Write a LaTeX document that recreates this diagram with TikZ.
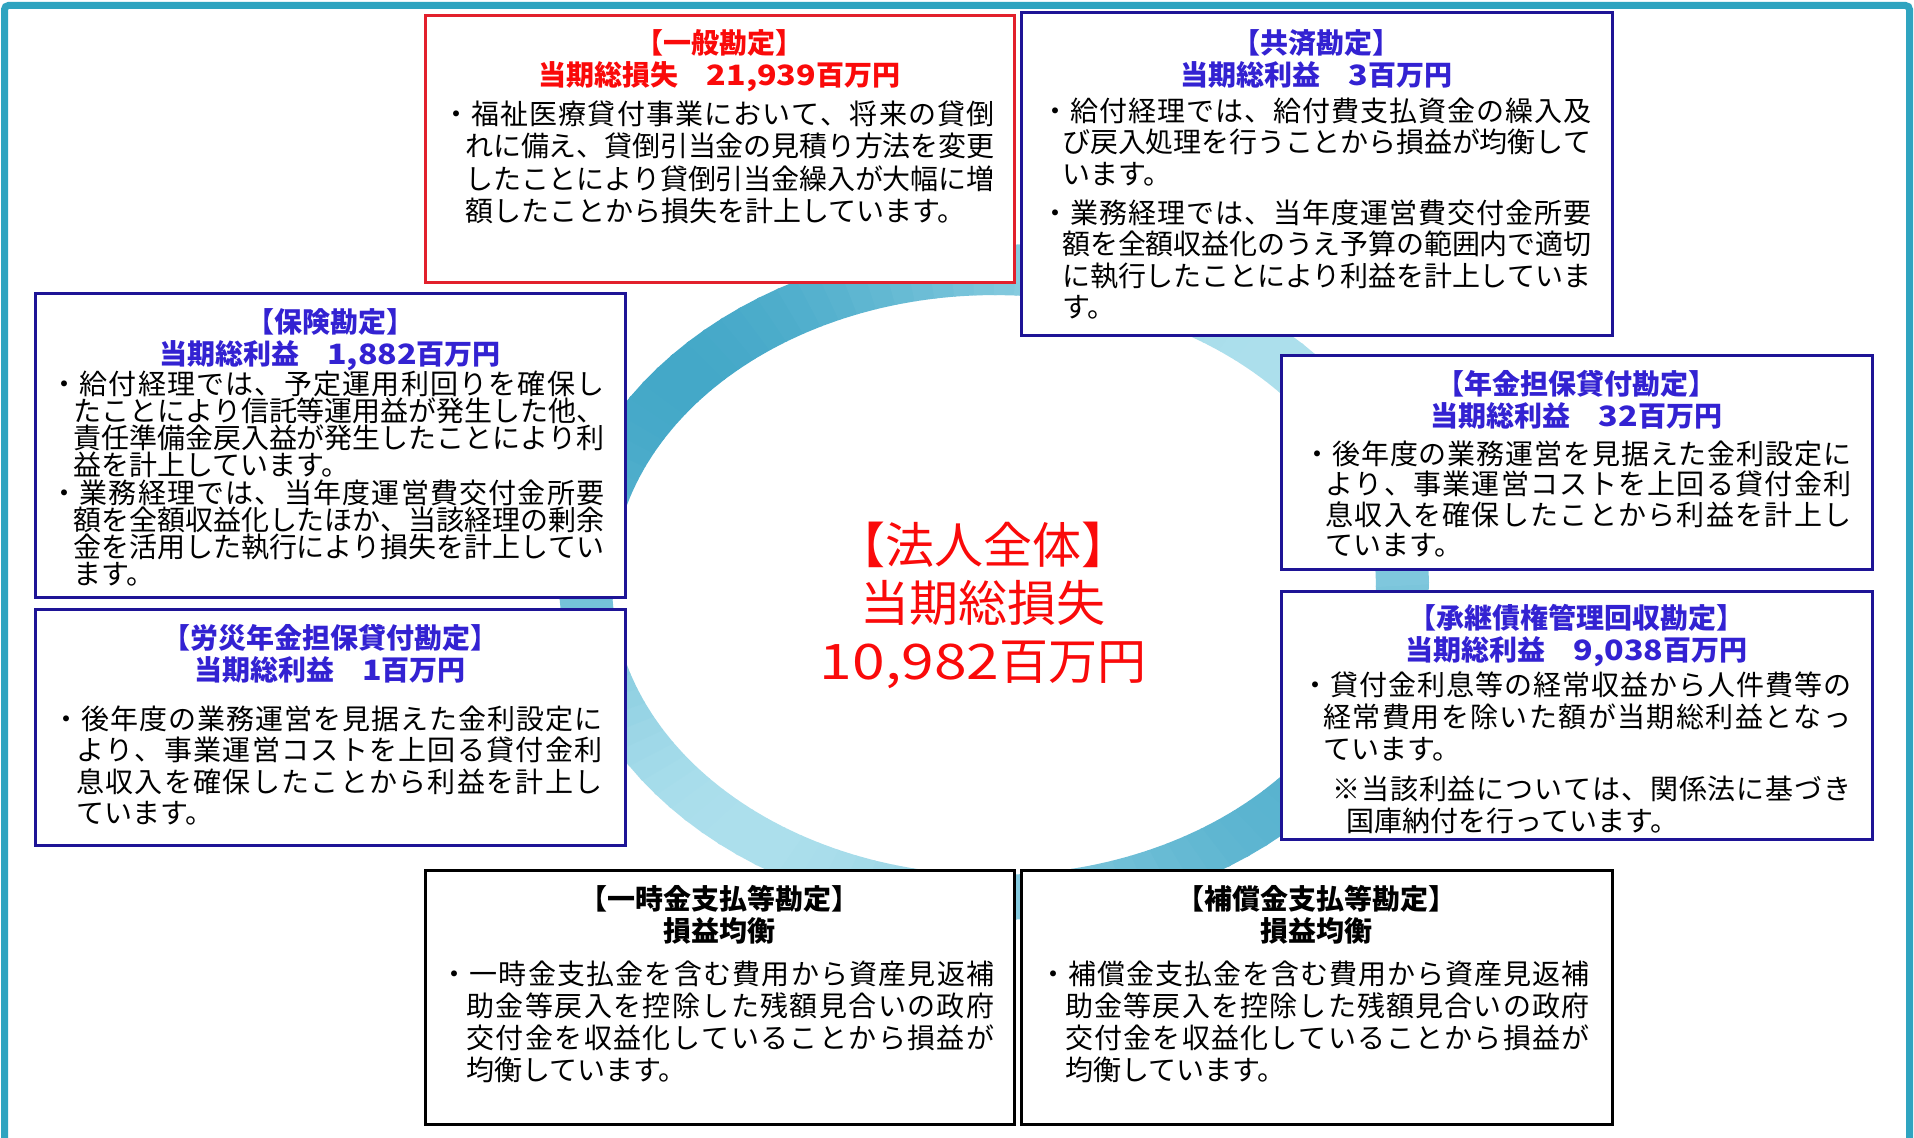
\documentclass[tikz,border=0pt]{standalone}
\usepackage{fontspec}
\usepackage{graphicx}
\setmainfont{Noto Sans CJK JP}
\usetikzlibrary{fit}
\definecolor{framec}{RGB}{47,164,192}
\definecolor{ringdark}{RGB}{68,168,200}
\definecolor{ringlight}{RGB}{172,223,236}
\definecolor{boxblue}{RGB}{30,20,150}
\definecolor{ttlblue}{RGB}{51,34,210}
\definecolor{boxred}{RGB}{226,32,44}
\definecolor{ttlred}{RGB}{250,10,10}
\makeatletter
\newcommand\spreadchars[1]{\@tfor\sp@x:=#1\do{\sp@x\hskip0pt plus 1fil minus 1pt}\unskip}
\makeatother
\newcommand\JLine[1]{\hbox to \jw{\spreadchars{#1}}}
\newcommand\JCont[1]{\hbox to \jw{\hspace*{\jin}\spreadchars{#1}}}
\newcommand\JLast[1]{\hbox{\hspace*{\jin}#1}}
\newcommand\dg[1]{\scalebox{1.15}[1]{#1}}
\begin{document}
\begin{tikzpicture}[x=0.5pt,y=-0.5pt,
  kbox/.style={draw=#1, line width=1.5pt, fill=white, inner sep=0pt},
  ttl/.style={text=#1, inner sep=0pt, align=center, font={\fontsize{14pt}{16pt}\selectfont\bfseries\lineskiplimit-50pt}},
  body/.style n args={3}{anchor=north west, inner sep=0pt, align=left, font={\fontsize{14pt}{#1}\selectfont\lineskiplimit-50pt\def\jw{#2}\def\jin{#3}}},
  cen/.style={text=ttlred, inner sep=0pt, align=center, font={\fontsize{24.5pt}{29pt}\selectfont\lineskiplimit-50pt}}]
\useasboundingbox (0,0) rectangle (1914,1138);
\fill[white] (0,0) rectangle (1914,1138);
% outer frame
\begin{scope}
\clip (0,0) rectangle (1914,1138);
\draw[framec, line width=3.5pt, rounded corners=2pt] (4.5,5.5) rectangle (1909.5,1200);
\end{scope}
% ring
\foreach \a in {0,3,...,357}{
  \pgfmathsetmacro\t{max(0,min(100,45+45*cos(2*(\a+1.5-220))+10*cos(\a+1.5-220)))}
  \fill[ringdark!\t!ringlight] ({994+435*cos(\a)},{582+338*sin(\a)}) -- ({994+435*cos(\a+3.4)},{582+338*sin(\a+3.4)}) -- ({994+382*cos(\a+3.4)},{585+290*sin(\a+3.4)}) -- ({994+382*cos(\a)},{585+290*sin(\a)}) -- cycle;
}
% boxes
\node[kbox=boxred, fit={(425,16) (1014,283)}] (ippan) {};
\node[kbox=boxblue, fit={(1021,13) (1612,336)}] (kyosai) {};
\node[kbox=boxblue, fit={(35,294) (625,597)}] (hoken) {};
\node[kbox=boxblue, fit={(35,609) (625,845)}] (rosai) {};
\node[kbox=boxblue, fit={(1281,356) (1872,569)}] (nenkin) {};
\node[kbox=boxblue, fit={(1281,591) (1872,839)}] (shokei) {};
\node[kbox=black, fit={(425,870) (1014,1124)}] (ichiji) {};
\node[kbox=black, fit={(1021,870) (1612,1124)}] (hosho) {};
% titles
\node[ttl=ttlred] (ippanT) at (719.5,61) {【一般勘定】\\当期総損失　\dg{21,939}百万円};
\node[ttl=ttlblue] (kyosaiT) at (1316.5,59) {【共済勘定】\\当期総利益　\dg{3}百万円};
\node[ttl=ttlblue] (hokenT) at (330,339.5) {【保険勘定】\\当期総利益　\dg{1,882}百万円};
\node[ttl=ttlblue] (rosaiT) at (330,653.5) {【労災年金担保貸付勘定】\\当期総利益　\dg{1}百万円};
\node[ttl=ttlblue] (nenkinT) at (1576.5,399.5) {【年金担保貸付勘定】\\当期総利益　\dg{32}百万円};
\node[ttl=ttlblue] (shokeiT) at (1576.5,636) {【承継債権管理回収勘定】\\当期総利益　\dg{9,038}百万円};
\node[ttl=black] (ichijiT) at (719.5,914.5) {【一時金支払等勘定】\\損益均衡};
\node[ttl=black] (hoshoT) at (1316.5,914.5) {【補償金支払等勘定】\\損益均衡};
% bodies
\node[body={16.15pt}{276pt}{11.5pt}] (ippanB) at (442,100.4) {%
\JLine{・福祉医療貸付事業において、将来の貸倒}\\
\JCont{れに備え、貸倒引当金の見積り方法を変更}\\
\JCont{したことにより貸倒引当金繰入が大幅に増}\\
\JLast{額したことから損失を計上しています。}};
\node[body={15.75pt}{275pt}{10.5pt}] (kyosaiB) at (1041,97.4) {%
\JLine{・給付経理では、給付費支払資金の繰入及}\\
\JCont{び戻入処理を行うことから損益が均衡して}\\
\JLast{います。}\\[3.75pt]
\JLine{・業務経理では、当年度運営費交付金所要}\\
\JCont{額を全額収益化のうえ予算の範囲内で適切}\\
\JCont{に執行したことにより利益を計上していま}\\
\JLast{す。}};
\node[body={13.6pt}{277pt}{11.5pt}] (hokenB) at (50,370.4) {%
\JLine{・給付経理では、予定運用利回りを確保し}\\
\JCont{たことにより信託等運用益が発生した他、}\\
\JCont{責任準備金戻入益が発生したことにより利}\\
\JLast{益を計上しています。}\\
\JLine{・業務経理では、当年度運営費交付金所要}\\
\JCont{額を全額収益化したほか、当該経理の剰余}\\
\JCont{金を活用した執行により損失を計上してい}\\
\JLast{ます。}};
\node[body={15.65pt}{275pt}{12pt}] (rosaiB) at (52,705.4) {%
\JLine{・後年度の業務運営を見据えた金利設定に}\\
\JCont{より、事業運営コストを上回る貸付金利}\\
\JCont{息収入を確保したことから利益を計上し}\\
\JLast{ています。}};
\node[body={15.25pt}{274pt}{11pt}] (nenkinB) at (1303,440.4) {%
\JLine{・後年度の業務運営を見据えた金利設定に}\\
\JCont{より、事業運営コストを上回る貸付金利}\\
\JCont{息収入を確保したことから利益を計上し}\\
\JLast{ています。}};
\node[body={16pt}{275pt}{11pt}] (shokeiB) at (1301,671.4) {%
\JLine{・貸付金利息等の経常収益から人件費等の}\\
\JCont{経常費用を除いた額が当期総利益となっ}\\
\JLast{ています。}\\[4pt]
\hbox to \jw{\hspace*{15.5pt}\spreadchars{※当該利益については、関係法に基づき}}\\
\hbox{\hspace*{22.5pt}国庫納付を行っています。}};
\node[body={16pt}{277pt}{13pt}] (ichijiB) at (440,960.4) {%
\JLine{・一時金支払金を含む費用から資産見返補}\\
\JCont{助金等戻入を控除した残額見合いの政府}\\
\JCont{交付金を収益化していることから損益が}\\
\JLast{均衡しています。}};
\node[body={16pt}{275pt}{13pt}] (hoshoB) at (1039,960.4) {%
\JLine{・補償金支払金を含む費用から資産見返補}\\
\JCont{助金等戻入を控除した残額見合いの政府}\\
\JCont{交付金を収益化していることから損益が}\\
\JLast{均衡しています。}};
% centre
\node[cen] (total) at (983,605) {【法人全体】\\当期総損失\\\scalebox{1.2}[1]{10,982}百万円};
\end{tikzpicture}
\end{document}
